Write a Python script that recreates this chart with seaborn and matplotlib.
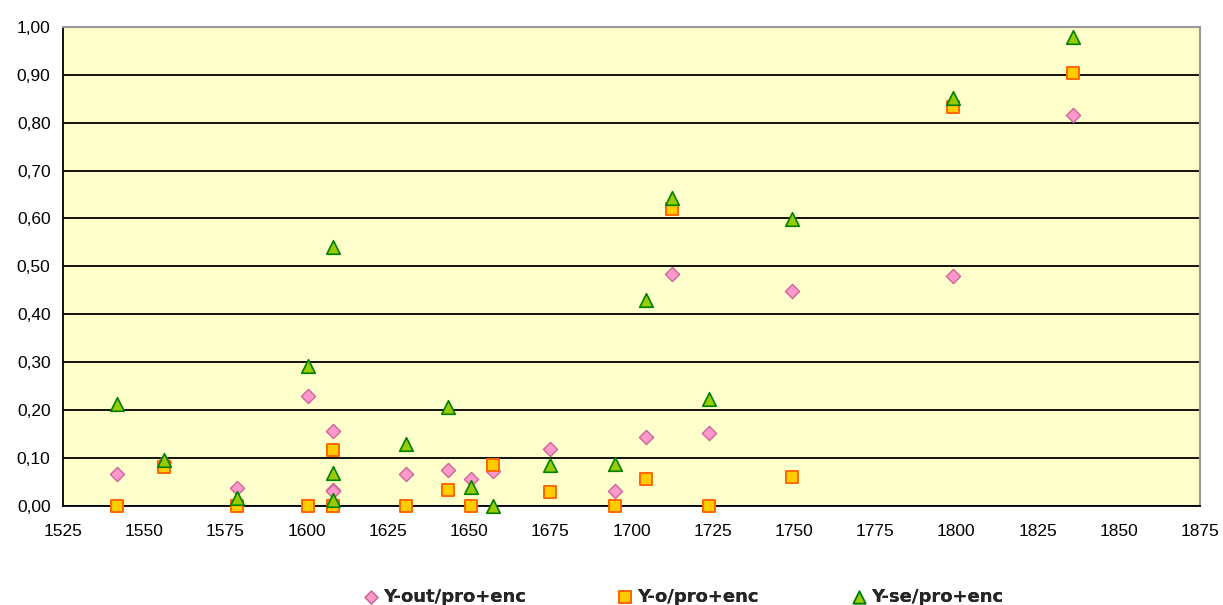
import matplotlib
matplotlib.use("Agg")
import matplotlib.pyplot as plt
import seaborn as sns
import numpy as np
import pandas as pd
from matplotlib.ticker import FuncFormatter, MultipleLocator

# ---- data ----
years = [1541.5, 1556, 1578.5, 1600.5, 1608, 1608, 1608, 1630.5, 1643.5, 1650.5,
         1657.5, 1675, 1695, 1704.5, 1712.5, 1724, 1749.5, 1799, 1835.8]
y_out = [0.065, 0.090, 0.036, 0.229, 0.156, 0.032, 0.030, 0.065, 0.074, 0.055,
         0.073, 0.118, 0.031, 0.143, 0.483, 0.151, 0.448, 0.479, 0.816]
y_o = [0.000, 0.080, 0.000, 0.000, 0.115, 0.000, 0.000, 0.000, 0.0325, 0.000,
       0.085, 0.029, 0.000, 0.055, 0.619, 0.000, 0.060, 0.832, 0.904]
y_se = [0.212, 0.095, 0.015, 0.292, 0.540, 0.068, 0.012, 0.129, 0.206, 0.038,
        0.000, 0.085, 0.086, 0.429, 0.642, 0.223, 0.598, 0.851, 0.979]
series_labels = ["Y-out/pro+enc", "Y-o/pro+enc", "Y-se/pro+enc"]
x_ticks = list(range(1525, 1876, 25))

sns.set_style("white")
plt.rcParams["font.family"] = ["Liberation Sans", "DejaVu Sans"]

W, H = 1223, 605
fig = plt.figure(figsize=(W / 100, H / 100), dpi=100)
left, right, top, bottom = 63, 1200, 27, 505.5
ax = fig.add_axes([left / W, (H - bottom) / H, (right - left) / W, (bottom - top) / H])
ax.set_facecolor("#FFFFCC")

styles = [
    dict(marker="D", s=52, color="#FF99CC", edgecolor="#CC6699", linewidth=1.0),
    dict(marker="s", s=78, color="#FFCC00", edgecolor="#FF6600", linewidth=1.4),
    dict(marker="^", s=95, color="#99CC00", edgecolor="#008000", linewidth=1.2),
]
handles = []
for vals, lab, st in zip([y_out, y_o, y_se], series_labels, styles):
    sns.scatterplot(x=years, y=vals, ax=ax, clip_on=False,
                    zorder=4, label=lab, legend=False, **st)
    handles.append(ax.collections[-1])

ax.set_xlim(1525, 1875)
ax.set_ylim(0, 1.0)
ax.set_xticks(x_ticks)
ax.yaxis.set_major_locator(MultipleLocator(0.1))
ax.yaxis.set_major_formatter(FuncFormatter(lambda v, p: f"{v:.2f}".replace(".", ",")))
ax.xaxis.set_major_formatter(FuncFormatter(lambda v, p: f"{int(round(v))}"))

ax.yaxis.grid(True, color="black", linewidth=1.3)
ax.xaxis.grid(False)
ax.set_axisbelow(True)

for sp in ["left", "bottom"]:
    ax.spines[sp].set_color("black")
    ax.spines[sp].set_linewidth(1.3)
for sp in ["top", "right"]:
    ax.spines[sp].set_color("#999999")
    ax.spines[sp].set_linewidth(1.5)

ax.tick_params(axis="both", direction="out", length=5, width=1.3, color="black",
               labelsize=12.5, labelcolor="black", pad=4)
ax.tick_params(axis="x", pad=8)
ax.set_xlabel("")
ax.set_ylabel("")

# legend: three entries placed along the bottom
leg_x = [362, 616, 850]
leg_y = (H - 597) / H
for h, lab, lx in zip(handles, series_labels, leg_x):
    lg = fig.legend(handles=[h], labels=[lab], loc="center left",
                    bbox_to_anchor=(lx / W, leg_y), frameon=False,
                    handletextpad=0.15, handlelength=1.0, borderpad=0, borderaxespad=0,
                    prop={"family": "DejaVu Sans", "weight": "bold", "size": 13},
                    markerscale=0.9)
    fig.add_artist(lg)

fig.savefig("out.png", dpi=100)
